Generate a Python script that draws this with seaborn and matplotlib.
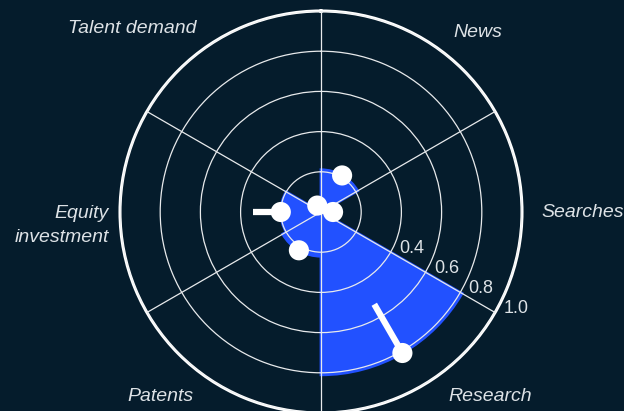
import numpy as np
import matplotlib
matplotlib.use("Agg")
import matplotlib.pyplot as plt
import seaborn as sns

# data
categories = ["News", "Searches", "Research", "Patents", "Equity\ninvestment", "Talent demand"]
current = [0.21, 0.06, 0.81, 0.22, 0.20, 0.037]
previous = [0.21, 0.06, 0.53, 0.22, 0.34, 0.037]
rticks = [0.2, 0.4, 0.6, 0.8, 1.0]
rtick_labels = ["", "0.4", "0.6", "0.8", "1.0"]

bg = "#051c2c"
blue = "#2251ff"
txt = "#dde2e6"

sns.set_style("dark")
plt.rcParams["font.family"] = ["Liberation Sans", "DejaVu Sans"]

theta = np.deg2rad(np.arange(30, 360, 60))
width = np.deg2rad(60)

fig = plt.figure(figsize=(6.24, 4.11), dpi=100, facecolor=bg)
ax = fig.add_axes([120 / 624, -2 / 411, 402 / 624, 402 / 411], projection="polar")
ax.set_facecolor(bg)
ax.set_theta_zero_location("N")
ax.set_theta_direction(-1)

# sectors
ax.bar(theta, current, width=width, color=blue, edgecolor=blue, linewidth=2, zorder=1)

# change lines and dots
for t, a, b in zip(theta, previous, current):
    ax.plot([t, t], [a, b], color="white", lw=4.5, solid_capstyle="butt", zorder=4)
sns.scatterplot(x=theta, y=current, ax=ax, color="white", s=210, edgecolor="none", zorder=5)

ax.set_ylim(0, 1)
ax.set_yticks(rticks)
ax.set_yticklabels([])
ax.set_xticks(np.deg2rad(np.arange(0, 360, 60)))
ax.set_xticklabels([])
ax.set_xlabel("")
ax.set_ylabel("")
ax.set_axisbelow(False)
ax.grid(True, color="#e8eaec", lw=0.9)
ax.spines["polar"].set_color("white")
ax.spines["polar"].set_linewidth(2.2)
ax.tick_params(length=0)

# radial tick labels along the 120 degree spoke
for r, lab in zip(rticks, rtick_labels):
    if lab:
        ax.annotate(lab, xy=(np.deg2rad(120), r), xytext=(6, -3.5), textcoords="offset points",
                    ha="left", va="bottom", color=txt, fontsize=13, zorder=6)

# category labels
label_pos = [(36.4, 1.107, "left", "center"), (90, 1.095, "left", "center"),
             (145.5, 1.116, "left", "center"), (214.5, 1.116, "right", "center"),
             (266.3, 1.057, "right", "center"), (326, 1.104, "right", "center")]
for lab, (deg, r, ha, va) in zip(categories, label_pos):
    ax.text(np.deg2rad(deg), r, lab, ha=ha, va=va, color=txt, fontsize=14,
            style="italic", multialignment="right", linespacing=1.55, clip_on=False)

fig.savefig("out.png", dpi=100, facecolor=bg)
